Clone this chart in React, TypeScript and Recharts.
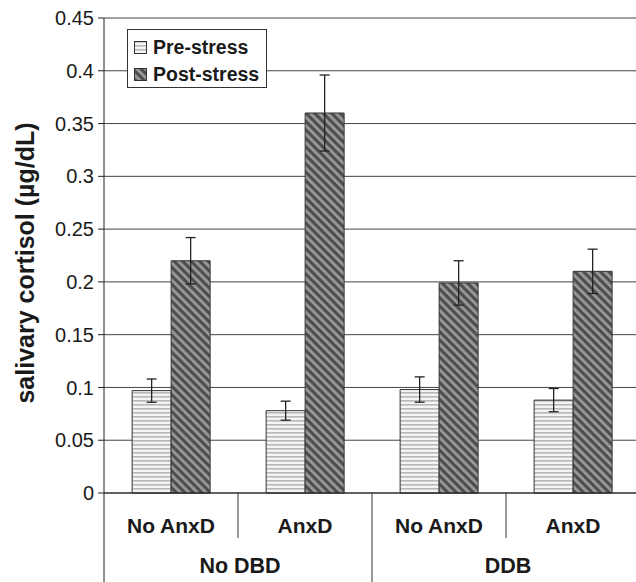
import {
  BarChart,
  Bar,
  XAxis,
  YAxis,
  CartesianGrid,
  Legend,
  ErrorBar,
  Label,
} from "recharts";

const categories = ["No AnxD", "AnxD", "No AnxD", "AnxD"];
const groups = ["No DBD", "DDB"];
const seriesNames = ["Pre-stress", "Post-stress"];
const preStress = [0.097, 0.078, 0.098, 0.088];
const preErr = [0.011, 0.009, 0.012, 0.011];
const postStress = [0.22, 0.36, 0.199, 0.21];
const postErr = [0.022, 0.036, 0.021, 0.021];
const yTicks = [0, 0.05, 0.1, 0.15, 0.2, 0.25, 0.3, 0.35, 0.4, 0.45];

const data = categories.map((cat, i) => ({
  cat,
  pre: preStress[i],
  preErr: preErr[i],
  post: postStress[i],
  postErr: postErr[i],
}));

const FONT = '"Liberation Sans", Arial, Helvetica, sans-serif';
const WIDTH = 640;
const HEIGHT = 582;
const MARGIN = { top: 18, right: 0, bottom: 0, left: 0 };
const X_AXIS_H = 89;
const Y_AXIS_W = 104;
const PLOT_BOTTOM = HEIGHT - MARGIN.bottom - X_AXIS_H;
const BAND = (WIDTH - Y_AXIS_W - MARGIN.left - MARGIN.right) / categories.length;

function CategoryTick(props: any) {
  const { payload, index } = props;
  const x = payload.coordinate;
  const right = x + BAND / 2;
  const isGroupEnd = index % 2 === 1;
  return (
    <g>
      {index === 0 && (
        <line x1={x - BAND / 2} x2={x - BAND / 2} y1={PLOT_BOTTOM} y2={HEIGHT} stroke="#222" />
      )}
      <line
        x1={right}
        x2={right}
        y1={PLOT_BOTTOM}
        y2={isGroupEnd ? HEIGHT : PLOT_BOTTOM + 45}
        stroke="#333"
      />
      <text
        x={x}
        y={PLOT_BOTTOM + 40}
        textAnchor="middle"
        fontFamily={FONT}
        fontWeight="bold"
        fontSize={21}
        fill="#1a1a1a"
      >
        {payload.value}
      </text>
      {index % 2 === 0 && (
        <text
          x={right + 2}
          y={PLOT_BOTTOM + 80}
          textAnchor="middle"
          fontFamily={FONT}
          fontWeight="bold"
          fontSize={21.5}
          fill="#1a1a1a"
        >
          {groups[index / 2]}
        </text>
      )}
    </g>
  );
}

function LegendBox(props: any) {
  const items = [...(props.payload || [])].sort(
    (a: any, b: any) => seriesNames.indexOf(a.value) - seriesNames.indexOf(b.value)
  );
  return (
    <div
      style={{
        width: 140,
        height: 59,
        boxSizing: "border-box",
        border: "1px solid #333",
        background: "#fff",
        padding: "4px 0 0 6px",
        fontFamily: FONT,
        fontWeight: "bold",
        fontSize: 19.5,
        color: "#1a1a1a",
      }}
    >
      {items.map((item: any) => (
        <div
          key={item.value}
          style={{ display: "flex", alignItems: "center", height: 27, lineHeight: "27px" }}
        >
          <svg width={13} height={13} style={{ marginRight: 6 }}>
            <rect
              x={0.5}
              y={0.5}
              width={12}
              height={12}
              fill={item.payload?.fill || item.color}
              stroke="#333"
            />
          </svg>
          <span>{item.value}</span>
        </div>
      ))}
    </div>
  );
}

function YTitle() {
  const cx = 34;
  const cy = 263;
  return (
    <text
      x={cx}
      y={cy}
      transform={`rotate(-90 ${cx} ${cy})`}
      textAnchor="middle"
      fontFamily={FONT}
      fontWeight="bold"
      fontSize={25}
      fill="#1a1a1a"
    >
      salivary cortisol (µg/dL)
    </text>
  );
}

export default function App() {
  return (
    <div
      style={{
        position: "absolute",
        left: 0,
        top: 0,
        width: 636,
        height: 582,
        overflow: "hidden",
        background: "#fff",
      }}
    >
      <BarChart
        width={WIDTH}
        height={HEIGHT}
        data={data}
        margin={MARGIN}
        barCategoryGap="21%"
        barGap={0}
      >
        <defs>
          <pattern id="preFill" patternUnits="userSpaceOnUse" width={4} height={4}>
            <rect x={0} y={0} width={4} height={4} fill="#f4f4f4" />
            <rect x={0} y={0} width={4} height={1.6} fill="#b8b8b8" />
          </pattern>
          <pattern
            id="postFill"
            patternUnits="userSpaceOnUse"
            width={6}
            height={6}
            patternTransform="rotate(-45)"
          >
            <rect x={0} y={0} width={6} height={6} fill="#4e4e4e" />
            <rect x={0} y={0} width={2.8} height={6} fill="#9a9a9a" />
          </pattern>
        </defs>
        <CartesianGrid vertical={false} stroke="#444" />
        <XAxis
          dataKey="cat"
          height={X_AXIS_H}
          interval={0}
          tickLine={false}
          axisLine={{ stroke: "#222" }}
          tick={<CategoryTick />}
        />
        <YAxis
          width={Y_AXIS_W}
          domain={[0, 0.45]}
          ticks={yTicks}
          interval={0}
          tickSize={6}
          tickMargin={4}
          axisLine={{ stroke: "#222" }}
          tickLine={{ stroke: "#222" }}
          tick={{ fontFamily: FONT, fontSize: 20, fill: "#1a1a1a" }}
        >
          <Label content={<YTitle />} />
        </YAxis>
        <Legend
          layout="vertical"
          align="center"
          verticalAlign="middle"
          content={<LegendBox />}
          wrapperStyle={{ left: 127, top: 29, width: 140 }}
        />
        <Bar
          dataKey="pre"
          name="Pre-stress"
          fill="url(#preFill)"
          stroke="#333"
          isAnimationActive={false}
        >
          <ErrorBar dataKey="preErr" width={5} stroke="#222" strokeWidth={1.3} />
        </Bar>
        <Bar
          dataKey="post"
          name="Post-stress"
          fill="url(#postFill)"
          stroke="#333"
          isAnimationActive={false}
        >
          <ErrorBar dataKey="postErr" width={5} stroke="#222" strokeWidth={1.3} />
        </Bar>
      </BarChart>
    </div>
  );
}
